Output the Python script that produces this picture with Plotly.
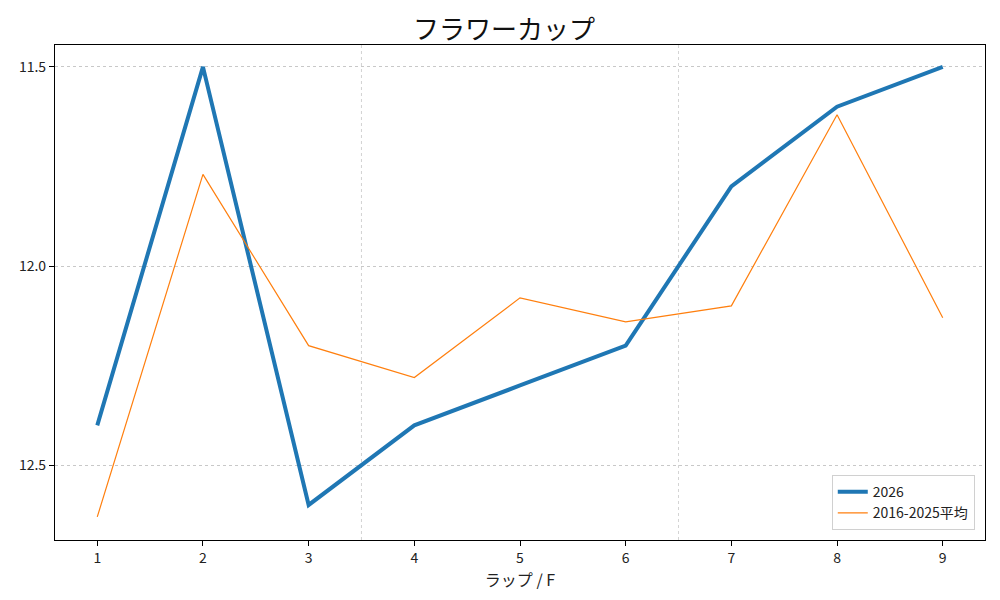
import plotly.graph_objects as go

laps = [1, 2, 3, 4, 5, 6, 7, 8, 9]
y2026 = [12.4, 11.5, 12.6, 12.4, 12.3, 12.2, 11.8, 11.6, 11.5]
yavg = [12.63, 11.77, 12.2, 12.28, 12.08, 12.14, 12.1, 11.62, 12.13]
ytickvals = [11.5, 12.0, 12.5]
yticktext = ["11.5", "12.0", "12.5"]
section_lines = [3.5, 6.5]

FONT = "Noto Sans CJK JP, DejaVu Sans, sans-serif"

fig = go.Figure()
fig.add_trace(go.Scatter(x=laps, y=y2026, mode="lines", name="2026",
                         line=dict(color="#1f77b4", width=4)))
fig.add_trace(go.Scatter(x=laps, y=yavg, mode="lines", name="2016-2025平均",
                         line=dict(color="#ff7f0e", width=1.2)))

for xv in section_lines:
    fig.add_shape(type="line", x0=xv, x1=xv, y0=0, y1=1, xref="x", yref="paper",
                  line=dict(color="#c8c8c8", width=0.8, dash="dot"), layer="below")

fig.update_layout(
    width=992, height=584,
    margin=dict(l=47, r=15, t=37, b=52, autoexpand=False),
    paper_bgcolor="white", plot_bgcolor="white",
    font=dict(family=FONT, size=14, color="#222"),
    title=dict(text="フラワーカップ", x=0.5, xanchor="center", y=0.963, yanchor="middle",
               font=dict(size=26, family=FONT, color="#111")),
    xaxis=dict(range=[0.6, 9.4], tickvals=laps, ticktext=[str(v) for v in laps],
               automargin=False,
               showgrid=False, zeroline=False, showline=True, linecolor="black", linewidth=1.2,
               mirror=True, ticks="outside", ticklen=5, tickcolor="black",
               title=dict(text="ラップ / F", font=dict(size=16), standoff=6)),
    yaxis=dict(range=[12.688, 11.445], tickvals=ytickvals, ticktext=yticktext,
               automargin=False,
               showgrid=True, gridcolor="#c8c8c8", griddash="dot", gridwidth=0.8,
               zeroline=False, showline=True, linecolor="black", linewidth=1.2,
               mirror=True, ticks="outside", ticklen=5, tickcolor="black"),
    legend=dict(x=0.989, xanchor="right", y=0.02, yanchor="bottom",
                bgcolor="rgba(255,255,255,0.8)", bordercolor="#d0d0d0", borderwidth=1,
                font=dict(size=14)),
    showlegend=True,
)

fig.write_html("out.html")
